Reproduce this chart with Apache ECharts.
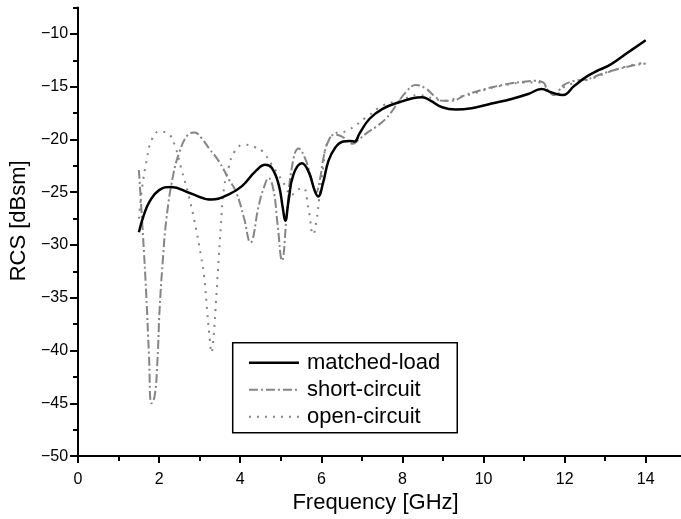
<!DOCTYPE html>
<html>
<head>
<meta charset="utf-8">
<script src="https://cdn.jsdelivr.net/npm/echarts@6/dist/echarts.min.js"></script>
<style>html,body{margin:0;padding:0;background:#fff;}#c{width:681px;height:519px;}</style>
</head>
<body>
<div id="c"></div>
<script>
// ---- data ----
const seriesNames = ['matched-load', 'short-circuit', 'open-circuit'];

const freqML = [1.5, 1.62, 1.77, 2.0, 2.3, 2.75, 3.3, 3.72, 4.05, 4.38, 4.62, 4.78, 4.95, 5.05, 5.11, 5.19, 5.31, 5.52, 5.68, 5.84, 5.92, 6.05, 6.17, 6.33, 6.54, 6.7, 6.82, 6.94, 7.19, 7.51, 7.92, 8.25, 8.49, 8.69, 8.98, 9.31, 9.71, 10.2, 10.69, 11.1, 11.43, 11.67, 11.96, 12.24, 12.57, 12.85, 13.14, 13.55, 14.0];
const rcsML = [-28.8, -27.2, -25.85, -24.8, -24.5, -25.07, -25.7, -25.2, -24.4, -23.0, -22.4, -22.7, -24.3, -26.5, -27.7, -25.85, -23.35, -22.26, -23.0, -24.9, -25.4, -24.0, -22.1, -20.85, -20.2, -20.15, -20.2, -19.45, -18.04, -17.1, -16.48, -16.1, -16.0, -16.33, -16.95, -17.17, -17.04, -16.6, -16.17, -15.7, -15.23, -15.54, -15.8, -14.92, -13.98, -13.42, -12.89, -11.79, -10.6];

const freqSC = [1.5, 1.6, 1.68, 1.75, 1.81, 1.89, 1.96, 2.01, 2.09, 2.18, 2.34, 2.5, 2.7, 2.87, 3.05, 3.23, 3.48, 3.72, 3.89, 4.09, 4.25, 4.46, 4.58, 4.7, 4.82, 4.92, 5.03, 5.15, 5.28, 5.44, 5.6, 5.76, 5.87, 5.97, 6.05, 6.17, 6.33, 6.5, 6.78, 6.9, 7.1, 7.35, 7.59, 7.84, 8.08, 8.33, 8.57, 8.78, 8.98, 9.22, 9.55, 9.96, 10.37, 10.69, 10.94, 11.26, 11.47, 11.58, 11.75, 11.96, 12.24, 12.57, 12.89, 13.3, 13.71, 14.0];
const rcsSC = [-22.9, -29.0, -34.5, -40.5, -45.0, -44.3, -40.8, -36.2, -31.5, -27.5, -23.5, -21.2, -19.6, -19.35, -19.9, -20.85, -22.1, -23.8, -24.9, -27.4, -29.76, -26.2, -24.6, -23.66, -24.8, -28.0, -31.47, -27.0, -22.5, -20.85, -21.8, -23.8, -25.0, -23.7, -21.8, -20.2, -19.54, -19.7, -20.4, -20.1, -19.45, -18.8, -18.04, -16.8, -15.54, -14.85, -15.16, -15.86, -16.33, -16.33, -15.8, -15.3, -14.92, -14.67, -14.55, -14.45, -14.6, -15.3, -15.8, -14.9, -14.45, -14.3, -13.82, -13.35, -12.98, -12.8];

const freqOC = [1.5, 1.58, 1.7, 1.82, 2.0, 2.22, 2.38, 2.54, 2.7, 2.87, 3.03, 3.11, 3.19, 3.25, 3.29, 3.34, 3.4, 3.45, 3.52, 3.6, 3.72, 3.85, 4.09, 4.34, 4.54, 4.78, 4.95, 5.11, 5.25, 5.4, 5.55, 5.68, 5.8, 5.88, 5.95, 6.05, 6.13, 6.33, 6.62, 7.11, 7.51, 7.92, 8.41, 8.74, 9.06, 9.39, 9.8, 10.2, 10.6, 11.0, 11.4, 11.62, 11.8, 12.0, 12.3, 12.7, 13.1, 13.5, 14.0];
const rcsOC = [-27.5, -24.6, -21.8, -20.0, -19.25, -19.45, -20.5, -22.7, -24.9, -27.7, -31.0, -33.0, -36.5, -39.0, -40.2, -38.8, -35.5, -32.4, -28.3, -24.6, -22.6, -21.2, -20.5, -20.7, -21.1, -22.4, -23.4, -24.4, -25.3, -24.8, -24.6, -26.5, -29.0, -27.7, -25.5, -22.5, -20.5, -19.45, -19.2, -17.9, -16.8, -16.33, -15.8, -16.1, -16.33, -16.0, -15.6, -15.1, -14.8, -14.6, -14.6, -15.4, -15.7, -15.0, -14.6, -14.2, -13.6, -13.1, -12.7];

const xMajorTicks = [0, 2, 4, 6, 8, 10, 12, 14];
const xMinorTicks = [1, 3, 5, 7, 9, 11, 13];
const yMajorTicks = [-50, -45, -40, -35, -30, -25, -20, -15, -10];
const yMinorTicks = [-47.5, -42.5, -37.5, -32.5, -27.5, -22.5, -17.5, -12.5, -7.5];

// ---- chart ----
const FONT = 'Liberation Sans, Arial, sans-serif';
const pairs = (xs, ys) => xs.map((x, i) => [x, ys[i]]);
const minus = v => String(v).replace('-', '\u2212');

const chart = echarts.init(document.getElementById('c'), null, {renderer: 'canvas'});
const xCommon = {
  type: 'value', min: 0, max: 14.87, gridIndex: 0,
  splitLine: {show: false}
};
const yCommon = {
  type: 'value', min: -50, max: -7.5, gridIndex: 0,
  splitLine: {show: false}
};
const hiddenSymbol = {color: 'transparent', opacity: 0, borderWidth: 0};
chart.setOption({
  animation: false,
  backgroundColor: '#fff',
  textStyle: {fontFamily: FONT},
  grid: {left: 72.7, right: 0, top: 7.5, bottom: 58},
  xAxis: [
    Object.assign({}, xCommon, {
      position: 'bottom',
      name: 'Frequency [GHz]', nameLocation: 'middle', nameGap: 32,
      nameTextStyle: {fontSize: 22, color: '#000', fontFamily: FONT, padding: [0, 8, 0, 0]},
      axisLine: {show: true, onZero: false, lineStyle: {color: '#000', width: 2}},
      axisTick: {show: true, inside: false, length: 7, customValues: xMajorTicks, lineStyle: {color: '#000', width: 2}},
      axisLabel: {show: true, margin: 15, customValues: xMajorTicks, fontSize: 16, color: '#000', fontFamily: FONT, formatter: minus}
    }),
    Object.assign({}, xCommon, {
      position: 'bottom',
      axisLine: {show: false, onZero: false},
      axisTick: {show: true, inside: false, length: 5, customValues: xMinorTicks, lineStyle: {color: '#000', width: 2}},
      axisLabel: {show: false}
    })
  ],
  yAxis: [
    Object.assign({}, yCommon, {
      position: 'left',
      name: 'RCS [dBsm]', nameLocation: 'middle', nameGap: 42, nameRotate: 90,
      nameTextStyle: {fontSize: 22, color: '#000', fontFamily: FONT, padding: [0, 0, 0, 22]},
      axisLine: {show: true, onZero: false, lineStyle: {color: '#000', width: 2}},
      axisTick: {show: true, inside: false, length: 8, customValues: yMajorTicks, lineStyle: {color: '#000', width: 2}},
      axisLabel: {show: true, margin: 10, customValues: yMajorTicks, fontSize: 16, color: '#000', fontFamily: FONT, formatter: minus}
    }),
    Object.assign({}, yCommon, {
      position: 'left',
      axisLine: {show: false, onZero: false},
      axisTick: {show: true, inside: false, length: 5, customValues: yMinorTicks, lineStyle: {color: '#000', width: 2}},
      axisLabel: {show: false}
    })
  ],
  legend: {
    orient: 'vertical', left: 232.7, top: 342.7,
    backgroundColor: '#fff',
    borderColor: '#000', borderWidth: 1.5, borderRadius: 0,
    padding: [9, 17, 5, 15],
    itemWidth: 50, itemHeight: 14, itemGap: 5,
    textStyle: {fontSize: 22, color: '#000', fontFamily: FONT, padding: [0, 0, 0, 3]},
    itemStyle: hiddenSymbol,
    data: [
      {name: seriesNames[0], lineStyle: {width: 2.5}, itemStyle: hiddenSymbol},
      {name: seriesNames[1], lineStyle: {width: 2}, itemStyle: hiddenSymbol},
      {name: seriesNames[2], lineStyle: {width: 2}, itemStyle: hiddenSymbol}
    ]
  },
  series: [
    {
      name: seriesNames[1], type: 'line', xAxisIndex: 0, yAxisIndex: 0,
      data: pairs(freqSC, rcsSC), symbol: 'none', showSymbol: false, smooth: 0.45,
      lineStyle: {color: '#858585', width: 2, type: [9, 3, 2, 3]},
      itemStyle: {color: '#858585'}, z: 2
    },
    {
      name: seriesNames[2], type: 'line', xAxisIndex: 0, yAxisIndex: 0,
      data: pairs(freqOC, rcsOC), symbol: 'none', showSymbol: false, smooth: 0.45,
      lineStyle: {color: '#858585', width: 2, type: [2, 6]},
      itemStyle: {color: '#858585'}, z: 2
    },
    {
      name: seriesNames[0], type: 'line', xAxisIndex: 0, yAxisIndex: 0,
      data: pairs(freqML, rcsML), symbol: 'none', showSymbol: false, smooth: 0.45,
      lineStyle: {color: '#000', width: 2.5, type: 'solid'},
      itemStyle: {color: '#000'}, z: 3
    }
  ]
});
</script>
</body>
</html>
